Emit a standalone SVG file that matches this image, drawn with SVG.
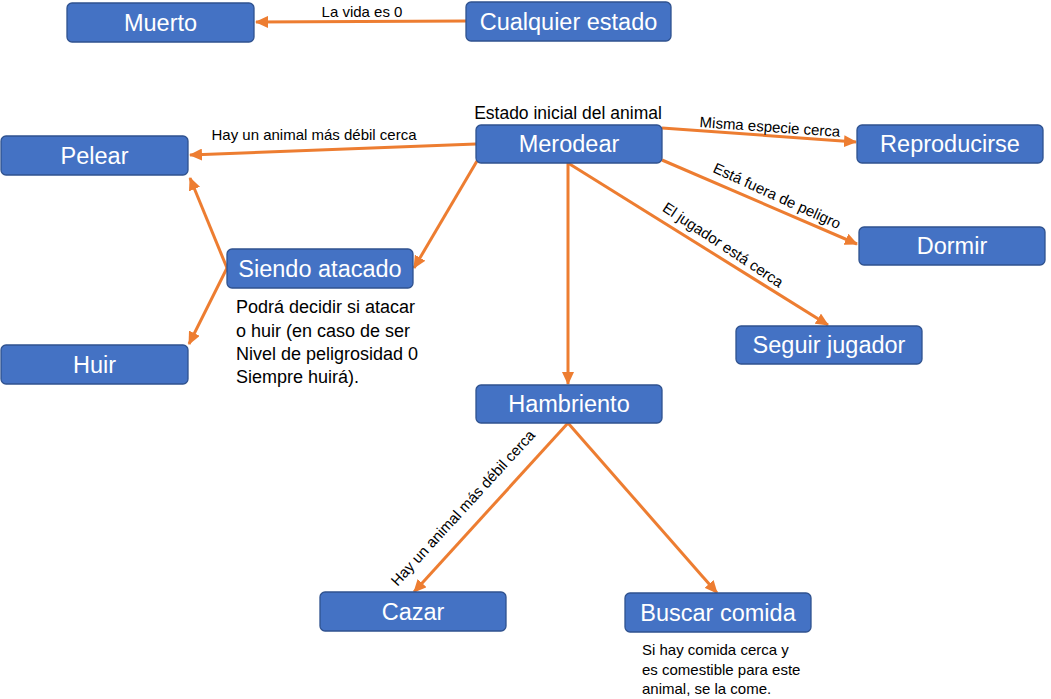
<svg xmlns="http://www.w3.org/2000/svg" width="1051" height="699" viewBox="0 0 1051 699">
<style>
.box{fill:#4472C4;stroke:#2F528F;stroke-width:1.3}
.nt{font-family:"Liberation Sans",Arial,sans-serif;font-size:23.5px;fill:#fff;text-anchor:middle;dominant-baseline:central}
.lbl{font-family:"Liberation Sans",Arial,sans-serif;font-size:15px;fill:#000;text-anchor:middle}
.note{font-family:"Liberation Sans",Arial,sans-serif;font-size:18px;fill:#000}
.note2{font-family:"Liberation Sans",Arial,sans-serif;font-size:15px;fill:#000}
.ed{stroke:#ED7D31;stroke-width:3;fill:none;marker-end:url(#ah)}
</style>
<defs>
<marker id="ah" markerUnits="userSpaceOnUse" markerWidth="14" markerHeight="12" refX="12" refY="6" orient="auto">
<path d="M0,0 L13,6 L0,12 Z" fill="#ED7D31"/>
</marker>
</defs>
<rect width="1051" height="699" fill="#fff"/>
<g id="connectors">
<line class="ed" x1="466" y1="21" x2="256" y2="22"/>
<line class="ed" x1="476" y1="144" x2="190" y2="155"/>
<line class="ed" x1="662" y1="128" x2="856" y2="142"/>
<line class="ed" x1="662" y1="160" x2="857" y2="244"/>
<line class="ed" x1="568" y1="163" x2="828" y2="325"/>
<line class="ed" x1="568" y1="163" x2="568" y2="384"/>
<line class="ed" x1="477" y1="161" x2="414" y2="268"/>
<line class="ed" x1="227" y1="268" x2="190" y2="178"/>
<line class="ed" x1="227" y1="268" x2="189" y2="344"/>
<line class="ed" x1="568" y1="423" x2="414" y2="592"/>
<line class="ed" x1="568" y1="423" x2="717" y2="593"/>
<text class="lbl" x="362" y="17">La vida es 0</text>
<text class="lbl" x="314" y="140">Hay un animal más débil cerca</text>
<text class="lbl" x="770" y="132" transform="rotate(4 770 127)">Misma especie cerca</text>
<text class="lbl" x="777" y="201" transform="rotate(24.5 777 196)">Está fuera de peligro</text>
<text class="lbl" x="723" y="250" transform="rotate(33.5 723 245)">El jugador está cerca</text>
<text class="lbl" x="463" y="513" transform="rotate(-47.5 463 508)">Hay un animal más débil cerca</text>
</g>
<g id="muerto"><rect class="box" x="67" y="3" width="187" height="39" rx="5"/><text class="nt" x="160.5" y="22.5">Muerto</text></g>
<g id="cualquier"><rect class="box" x="466" y="2" width="205" height="39" rx="5"/><text class="nt" x="568.5" y="21.5">Cualquier estado</text></g>
<g id="pelear"><rect class="box" x="1" y="136" width="187" height="39" rx="5"/><text class="nt" x="94.5" y="155.5">Pelear</text></g>
<g id="merodear"><rect class="box" x="476" y="125" width="186" height="38" rx="5"/><text class="nt" x="569" y="144">Merodear</text>
<text class="lbl" x="568" y="119" style="font-size:17.5px">Estado inicial del animal</text></g>
<g id="reproducirse"><rect class="box" x="857" y="125" width="186" height="38" rx="5"/><text class="nt" x="950" y="144">Reproducirse</text></g>
<g id="dormir"><rect class="box" x="859" y="227" width="186" height="38" rx="5"/><text class="nt" x="952" y="246">Dormir</text></g>
<g id="siendo"><rect class="box" x="227" y="249" width="186" height="39" rx="5"/><text class="nt" x="320" y="268.5">Siendo atacado</text>
<text class="note" x="236" y="313">Podrá decidir si atacar</text>
<text class="note" x="236" y="337">o huir (en caso de ser</text>
<text class="note" x="236" y="360">Nivel de peligrosidad 0</text>
<text class="note" x="236" y="383">Siempre huirá).</text></g>
<g id="huir"><rect class="box" x="1" y="345" width="187" height="39" rx="5"/><text class="nt" x="94.5" y="364.5">Huir</text></g>
<g id="seguir"><rect class="box" x="736" y="326" width="186" height="38" rx="5"/><text class="nt" x="829" y="345">Seguir jugador</text></g>
<g id="hambriento"><rect class="box" x="476" y="385" width="186" height="38" rx="5"/><text class="nt" x="569" y="404">Hambriento</text></g>
<g id="cazar"><rect class="box" x="320" y="592" width="186" height="39" rx="5"/><text class="nt" x="413" y="611.5">Cazar</text></g>
<g id="buscar"><rect class="box" x="625" y="593" width="186" height="39" rx="5"/><text class="nt" x="718" y="612.5">Buscar comida</text>
<text class="note2" x="642" y="655">Si hay comida cerca y</text>
<text class="note2" x="642" y="675">es comestible para este</text>
<text class="note2" x="642" y="694">animal, se la come.</text></g>
</svg>
